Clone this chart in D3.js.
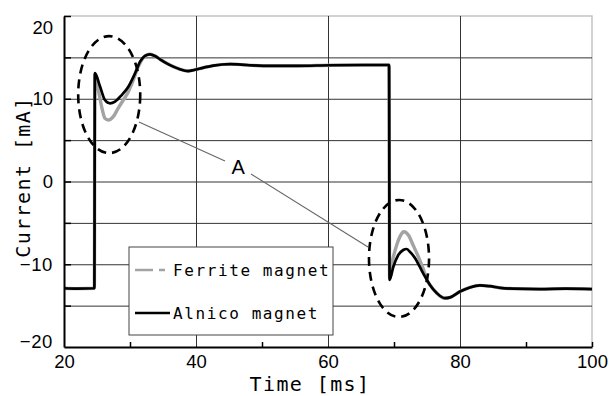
<!DOCTYPE html>
<html>
<head>
<meta charset="utf-8">
<script src="https://cdn.jsdelivr.net/npm/d3@7"></script>
<style>
  html, body { margin: 0; padding: 0; background: #fff; }
  svg { display: block; }
  .tick text { font-family: "Liberation Sans", Arial, sans-serif; font-size: 18.5px; fill: #000; }
  .mono { font-family: "DejaVu Sans Mono", monospace; }
</style>
</head>
<body>
<div id="chart"></div>
<script>
// time [ms], current [mA]
const alnico = [
  [20, -12.9], [22, -12.95], [24.6, -12.9], [24.68, 13.1], [25.45, 11.5], [26.2, 9.85],
  [26.97, 9.45], [27.73, 9.65], [28.74, 10.45], [29.75, 11.46], [30.76, 13.07],
  [31.52, 14.48], [32.27, 15.17], [33.03, 15.37], [33.79, 15.17], [34.55, 14.77],
  [35.56, 14.28], [36.56, 13.88], [37.58, 13.56], [38.8, 13.35], [39.6, 13.45],
  [40.6, 13.65], [42.6, 14.0], [45.15, 14.18], [47.7, 14.08], [50.2, 13.98],
  [55.3, 13.98], [60.3, 14.05], [65.35, 14.08], [69.25, 14.08], [69.33, -11.9],
  [69.9, -10.3], [70.65, -8.88], [71.4, -8.28], [71.9, -8.16], [72.4, -8.48],
  [73.2, -9.28], [73.9, -10.3], [74.7, -11.5], [75.45, -12.5], [76.5, -13.5],
  [77.7, -14.1], [78.5, -14.0], [80.0, -13.3], [81.5, -12.8], [83.0, -12.55],
  [84.5, -12.65], [86.1, -12.85], [88, -12.95], [92, -13.0], [96, -12.95], [100, -13.0]
];
const ferrite = [
  [20, -12.9], [22, -12.95], [24.6, -12.9], [24.68, 13.0], [25.2, 11.06], [25.7, 9.04],
  [26.2, 7.63], [26.7, 7.43], [27.47, 7.83], [28.2, 8.84], [29.0, 9.85], [29.75, 10.85],
  [30.5, 12.27], [31.26, 13.88], [32.27, 15.17], [33.03, 15.37], [33.79, 15.17],
  [34.55, 14.77], [35.56, 14.28], [36.56, 13.88], [37.58, 13.56], [38.8, 13.35],
  [39.6, 13.45], [40.6, 13.65], [42.6, 14.0], [45.15, 14.18], [47.7, 14.08],
  [50.2, 13.98], [55.3, 13.98], [60.3, 14.05], [65.35, 14.08], [69.25, 14.08],
  [69.33, -11.7], [69.8, -9.5], [70.4, -7.7], [71.0, -6.5], [71.5, -6.07], [72.2, -6.5],
  [72.9, -7.7], [73.7, -9.1], [74.4, -10.5], [75.0, -11.9], [75.45, -12.5], [76.5, -13.5],
  [77.7, -14.1], [78.5, -14.0], [80.0, -13.3], [81.5, -12.8], [83.0, -12.55],
  [84.5, -12.65], [86.1, -12.85], [88, -12.95], [92, -13.0], [96, -12.95], [100, -13.0]
];

const xLabels = [20, 40, 60, 80, 100];
const xGrid = [40, 60, 80];
const xMinor = [30, 50, 70, 90];
const yLabels = [-20, -10, 0, 10, 20];
const yGrid = [-15, -10, -5, 0, 5, 10, 15];
const seriesNames = ["Ferrite magnet", "Alnico magnet"];

// annotation ellipses: centre and radii in data units
const ellipses = [
  { cx: 26.85, cy: 10.5, rx: 4.7, ry: 7.07 },
  { cx: 70.76, cy: -9.3, rx: 4.55, ry: 7.07 }
];
const labelA = { t: 46.4, v: 0.9 };
const leaders = [
  [[31.36, 7.19], [44.39, 2.48]],
  [[48.33, 0.91], [66.06, -7.92]]
];

const width = 611, height = 396;
const margin = { top: 16, right: 19, bottom: 49, left: 64 };
const w = width - margin.left - margin.right;
const h = height - margin.top - margin.bottom;

const svg = d3.select("#chart").append("svg")
  .attr("width", width)
  .attr("height", height);

const g = svg.append("g")
  .attr("transform", `translate(${margin.left},${margin.top})`);

const x = d3.scaleLinear().domain([20, 100]).range([0, w]);
const y = d3.scaleLinear().domain([-20, 20]).range([h, 0]);

// frame top/right (light)
g.append("path")
  .attr("d", `M0,0H${w}V${h}`)
  .attr("fill", "none")
  .attr("stroke", "#c4c4c4")
  .attr("stroke-width", 1.5);

// horizontal grid
g.append("g")
  .call(d3.axisLeft(y).tickValues(yGrid).tickSize(-w).tickFormat(""))
  .call(s => s.select(".domain").remove())
  .call(s => s.selectAll("line").attr("stroke", "#333").attr("stroke-width", 1));

// vertical grid
g.append("g")
  .attr("transform", `translate(0,${h})`)
  .call(d3.axisBottom(x).tickValues(xGrid).tickSize(-h).tickFormat(""))
  .call(s => s.select(".domain").remove())
  .call(s => s.selectAll("line").attr("stroke", "#333").attr("stroke-width", 1));

// short inner ticks
g.append("g")
  .call(d3.axisLeft(y).tickValues(yGrid.concat([20])).tickSize(-7).tickFormat(""))
  .call(s => s.select(".domain").remove())
  .call(s => s.selectAll("line").attr("stroke", "#000").attr("stroke-width", 1.5));
g.append("g")
  .attr("transform", `translate(0,${h})`)
  .call(d3.axisBottom(x).tickValues(xMinor.concat([100])).tickSize(-5).tickFormat(""))
  .call(s => s.select(".domain").remove())
  .call(s => s.selectAll("line").attr("stroke", "#000").attr("stroke-width", 1.5));

// curves
const line = d3.line()
  .x(d => x(d[0]))
  .y(d => y(d[1]))
  .curve(d3.curveMonotoneX);

g.append("path")
  .datum(ferrite)
  .attr("fill", "none")
  .attr("stroke", "#a3a3a3")
  .attr("stroke-width", 3.4)
  .attr("d", line);

g.append("path")
  .datum(alnico)
  .attr("fill", "none")
  .attr("stroke", "#000")
  .attr("stroke-width", 2.7)
  .attr("d", line);

// axes (left + bottom, black)
const yAxis = g.append("g")
  .call(d3.axisLeft(y).tickValues(yLabels).tickSize(0).tickPadding(11)
    .tickFormat(d => d < 0 ? "\u2212" + Math.abs(d) : d));
yAxis.select(".domain").attr("stroke", "#000").attr("stroke-width", 2);
yAxis.selectAll(".tick text")
  .attr("dy", d => d === 20 ? "0.95em" : d === -20 ? "0.05em" : "0.32em")
  .attr("letter-spacing", d => d < 0 ? 0.6 : 0);

const xAxis = g.append("g")
  .attr("transform", `translate(0,${h})`)
  .call(d3.axisBottom(x).tickValues(xLabels).tickSize(0).tickPadding(8));
xAxis.select(".domain").attr("stroke", "#000").attr("stroke-width", 2);

// annotations
g.selectAll(".ell")
  .data(ellipses)
  .enter()
  .append("ellipse")
  .attr("cx", d => x(d.cx))
  .attr("cy", d => y(d.cy))
  .attr("rx", d => x(d.cx + d.rx) - x(d.cx))
  .attr("ry", d => y(d.cy - d.ry) - y(d.cy))
  .attr("fill", "none")
  .attr("stroke", "#000")
  .attr("stroke-width", 2.6)
  .attr("stroke-dasharray", "9,6");

g.selectAll(".leader")
  .data(leaders)
  .enter()
  .append("line")
  .attr("x1", d => x(d[0][0]))
  .attr("y1", d => y(d[0][1]))
  .attr("x2", d => x(d[1][0]))
  .attr("y2", d => y(d[1][1]))
  .attr("stroke", "#666")
  .attr("stroke-width", 1.1);

g.append("text")
  .attr("x", x(labelA.t))
  .attr("y", y(labelA.v))
  .attr("text-anchor", "middle")
  .attr("font-family", "'Liberation Sans', Arial, sans-serif")
  .attr("font-size", 20)
  .text("A");

// legend
const legend = svg.append("g").attr("transform", "translate(129,247)");
legend.append("rect")
  .attr("width", 204)
  .attr("height", 88)
  .attr("fill", "#fff")
  .attr("stroke", "#444")
  .attr("stroke-width", 1);

const legendStyles = [
  { color: "#a3a3a3", dash: "18,6,6,40" },
  { color: "#000", dash: null }
];
seriesNames.forEach((name, i) => {
  const row = legend.append("g").attr("transform", `translate(0,${23 + i * 43})`);
  row.append("line")
    .attr("x1", 6).attr("x2", 41)
    .attr("stroke", legendStyles[i].color)
    .attr("stroke-width", 2.6)
    .attr("stroke-dasharray", legendStyles[i].dash);
  row.append("text")
    .attr("class", "mono")
    .attr("x", 44)
    .attr("y", 6)
    .attr("font-size", 16)
    .attr("letter-spacing", 1.6)
    .text(name);
});

// axis titles
svg.append("text")
  .attr("class", "mono")
  .attr("x", 310)
  .attr("y", 391)
  .attr("text-anchor", "middle")
  .attr("font-size", 20)
  .attr("letter-spacing", 1.4)
  .text("Time [ms]");

svg.append("text")
  .attr("class", "mono")
  .attr("transform", "translate(30,177) rotate(-90)")
  .attr("text-anchor", "middle")
  .attr("font-size", 20)
  .attr("letter-spacing", 1.4)
  .text("Current [mA]");
</script>
</body>
</html>
